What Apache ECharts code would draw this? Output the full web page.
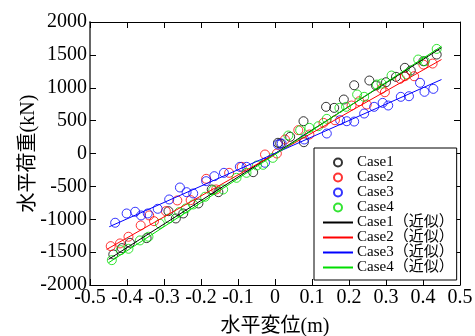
<!DOCTYPE html>
<html>
<head>
<meta charset="utf-8">
<script src="https://cdn.jsdelivr.net/npm/echarts@6/dist/echarts.min.js"></script>
<style>
  html, body { margin: 0; padding: 0; background: #fff; }
  #chart { width: 475px; height: 336px; }
</style>
</head>
<body>
<div id="chart"></div>
<script>
// 実測点 [変位(m), 荷重(kN)]
const case1 = [
  [-0.437, -1535], [-0.414, -1439], [-0.392, -1358], [-0.347, -1287], [-0.288, -877],
  [-0.268, -988], [-0.248, -912], [-0.207, -760], [-0.171, -547], [-0.153, -588],
  [-0.059, -284], [0.008, 163], [0.014, 152], [0.041, 254], [0.077, 491],
  [0.078, 172], [0.138, 710], [0.16, 694], [0.186, 821], [0.214, 1038],
  [0.255, 1110], [0.273, 1034], [0.3, 1084], [0.327, 1166], [0.351, 1303],
  [0.367, 1262], [0.401, 1403], [0.437, 1505]
];
const case2 = [
  [-0.444, -1409], [-0.419, -1368], [-0.396, -1266], [-0.363, -1094], [-0.34, -942],
  [-0.327, -1029], [-0.295, -877], [-0.264, -714], [-0.228, -709], [-0.186, -385],
  [-0.159, -547], [-0.124, -294], [-0.09, -203], [-0.027, -15], [0.005, 0],
  [0.027, 213], [0.063, 355], [0.093, 289], [0.131, 466], [0.162, 506],
  [0.207, 730], [0.228, 795], [0.248, 745], [0.288, 983], [0.297, 932],
  [0.338, 1135], [0.351, 1175], [0.376, 1175], [0.401, 1353], [0.426, 1368]
];
const case3 = [
  [-0.432, -1053], [-0.401, -912], [-0.378, -886], [-0.362, -942], [-0.344, -912],
  [-0.317, -841], [-0.286, -699], [-0.257, -517], [-0.239, -588], [-0.221, -608],
  [-0.186, -421], [-0.164, -345], [-0.138, -294], [-0.095, -203], [-0.077, -203],
  [-0.027, -141], [0.008, 137], [0.018, 152], [0.079, 213], [0.14, 304],
  [0.176, 506], [0.194, 491], [0.214, 486], [0.241, 608], [0.268, 710],
  [0.291, 770], [0.306, 730], [0.34, 862], [0.362, 871], [0.392, 1075],
  [0.404, 938], [0.428, 983]
];
const case4 = [
  [-0.441, -1622], [-0.417, -1470], [-0.396, -1449], [-0.365, -1322], [-0.342, -1266],
  [-0.311, -1069], [-0.286, -988], [-0.259, -892], [-0.241, -836], [-0.221, -775],
  [-0.189, -658], [-0.167, -558], [-0.14, -547], [-0.104, -370], [-0.077, -294],
  [-0.049, -182], [-0.032, -172], [-0.006, -66], [0.036, 274], [0.068, 355],
  [0.093, 390], [0.117, 415], [0.14, 527], [0.174, 694], [0.192, 710],
  [0.222, 897], [0.241, 862], [0.275, 1049], [0.288, 1064], [0.315, 1186],
  [0.356, 1201], [0.387, 1429], [0.405, 1403], [0.437, 1591]
];

// 近似直線の両端
const fit1 = [[-0.45, -1610], [0.45, 1610]];
const fit2 = [[-0.455, -1459], [0.45, 1429]];
const fit3 = [[-0.448, -1114], [0.45, 1125]];
const fit4 = [[-0.45, -1662], [0.45, 1631]];

const names = ['Case1', 'Case2', 'Case3', 'Case4'];
const colors = ['#000000', '#ff0000', '#0000ff', '#00dd00'];
const xTicks = { min: -0.5, max: 0.5, interval: 0.1 };
const yTicks = { min: -2000, max: 2000, interval: 500 };

const serif = "'Liberation Serif', 'Noto Sans CJK JP', serif";

const tickStyle = { inside: true, length: 6, lineStyle: { color: '#000' } };

const myChart = echarts.init(document.getElementById('chart'));

const pts = [case1, case2, case3, case4];
const fits = [fit1, fit2, fit3, fit4];

const series = [];
pts.forEach((d, i) => {
  series.push({
    name: names[i],
    type: 'scatter',
    data: d,
    symbol: 'circle',
    symbolSize: 9,
    itemStyle: { color: 'rgba(0,0,0,0)', borderColor: colors[i], borderWidth: 1 },
    emphasis: { disabled: true }
  });
});
fits.forEach((d, i) => {
  series.push({
    name: names[i] + '（近似）',
    type: 'line',
    data: d,
    symbol: 'none',
    lineStyle: { color: colors[i], width: 1 },
    itemStyle: { color: colors[i] },
    z: 3
  });
});

const legendData = names.map(n => ({ name: n, icon: 'circle' }))
  .concat(names.map(n => ({ name: n + '（近似）', itemStyle: { opacity: 0 } })));

myChart.setOption({
  animation: false,
  grid: { left: 90, right: 15, top: 22, bottom: 51, outerBoundsMode: 'none', containLabel: false },
  legend: {
    orient: 'vertical',
    left: 314,
    top: 148,
    padding: [7, 3, 5, 8],
    itemGap: 0,
    itemWidth: 30,
    itemHeight: 8,
    backgroundColor: '#fff',
    borderColor: '#000',
    borderWidth: 1,
    textStyle: { fontFamily: serif, fontSize: 15, lineHeight: 14.8, color: '#000', padding: [0, 0, 0, -1] },
    data: legendData
  },
  xAxis: [
    {
      type: 'value',
      position: 'bottom',
      ...xTicks,
      name: '水平変位(m)',
      nameLocation: 'middle',
      nameGap: 32,
      nameMoveOverlap: false,
      nameTextStyle: { fontFamily: serif, fontSize: 20, color: '#000' },
      axisLine: { onZero: false, lineStyle: { color: '#000', width: 1 } },
      axisTick: tickStyle,
      splitLine: { show: false },
      axisLabel: {
        margin: 3,
        fontFamily: serif,
        fontSize: 20,
        color: '#000',
        formatter: v => (Math.abs(v) < 1e-9 ? '0' : v.toFixed(1))
      }
    },
    {
      type: 'value',
      position: 'top',
      ...xTicks,
      axisLine: { onZero: false, lineStyle: { color: '#000', width: 1 } },
      axisTick: tickStyle,
      axisLabel: { show: false },
      splitLine: { show: false }
    }
  ],
  yAxis: [
    {
      type: 'value',
      position: 'left',
      ...yTicks,
      name: '水平荷重(kN)',
      nameLocation: 'middle',
      nameRotate: 90,
      nameGap: 51,
      nameMoveOverlap: false,
      nameTextStyle: { fontFamily: serif, fontSize: 20, color: '#000' },
      axisLine: { onZero: false, lineStyle: { color: '#666', width: 2 } },
      axisTick: tickStyle,
      splitLine: { show: false },
      axisLabel: { margin: 3, fontFamily: serif, fontSize: 20, color: '#000', formatter: v => String(v) }
    },
    {
      type: 'value',
      position: 'right',
      ...yTicks,
      axisLine: { onZero: false, lineStyle: { color: '#000', width: 1 } },
      axisTick: tickStyle,
      axisLabel: { show: false },
      splitLine: { show: false }
    }
  ],
  series: series
});
</script>
</body>
</html>
